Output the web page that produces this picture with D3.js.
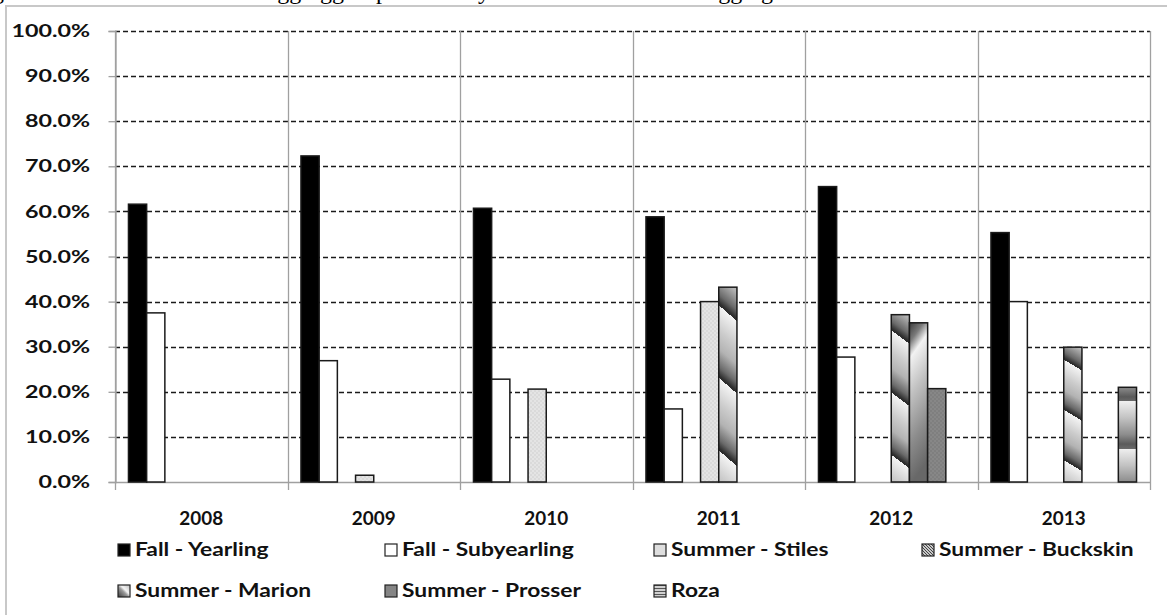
<!DOCTYPE html>
<html>
<head>
<meta charset="utf-8">
<script src="https://cdn.jsdelivr.net/npm/d3@7"></script>
<style>
  html, body { margin: 0; padding: 0; background: #fff; }
  svg { display: block; }
</style>
</head>
<body>
<svg id="chart" width="1167" height="615"></svg>
<script>
// ---------------- data ----------------
const years = ["2008", "2009", "2010", "2011", "2012", "2013"];
const seriesKeys = ["yearling", "subyearling", "blank", "stiles", "buckskin", "marion", "prosser", "roza"];
const seriesNames = ["Fall - Yearling", "Fall - Subyearling", "", "Summer - Stiles", "Summer - Buckskin", "Summer - Marion", "Summer - Prosser", "Roza"];
const fallYearling    = [61.6, 72.3, 60.7, 58.8, 65.5, 55.3];
const fallSubyearling = [37.5, 26.9, 22.8, 16.2, 27.7, 40.0];
const blankSeries     = [0, 0, 0, 0, 0, 0];
const summerStiles    = [0, 1.5, 20.6, 40.0, 0, 0];
const summerBuckskin  = [0, 0, 0, 43.2, 37.1, 29.9];
const summerMarion    = [0, 0, 0, 0, 35.3, 0];
const summerProsser   = [0, 0, 0, 0, 20.7, 0];
const roza            = [0, 0, 0, 0, 0, 21.0];
const yTicks = [0, 10, 20, 30, 40, 50, 60, 70, 80, 90, 100];
const legendOrder = ["yearling", "subyearling", "stiles", "buckskin", "marion", "prosser", "roza"];

const seriesValues = [fallYearling, fallSubyearling, blankSeries, summerStiles, summerBuckskin, summerMarion, summerProsser, roza];

// ---------------- layout ----------------
const svg = d3.select("#chart");
const W = 1167, H = 615;
const plot = { left: 115, right: 1150, top: 31, bottom: 482 };
const FONT = "Lato, 'Open Sans', sans-serif";

const defs = svg.append("defs");
function dotPattern(id, bg, dot) {
  const p = defs.append("pattern").attr("id", id).attr("patternUnits", "userSpaceOnUse")
    .attr("width", 4).attr("height", 4);
  p.append("rect").attr("width", 4).attr("height", 4).attr("fill", bg);
  p.append("circle").attr("cx", 1).attr("cy", 1).attr("r", 0.7).attr("fill", dot);
  p.append("circle").attr("cx", 3).attr("cy", 3).attr("r", 0.7).attr("fill", dot);
}
dotPattern("stilesPat", "#e4e4e4", "#c9c9c9");
dotPattern("prosserPat", "#878787", "#727272");

function grad(id, attrs, stops) {
  const g = defs.append("linearGradient").attr("id", id);
  Object.entries(attrs).forEach(([k, v]) => g.attr(k, v));
  stops.forEach(([o, c]) => g.append("stop").attr("offset", o).attr("stop-color", c));
}
grad("buckskinGrad",
  { gradientUnits: "objectBoundingBox", spreadMethod: "repeat", x1: 0, y1: -0.28, x2: -0.03, y2: 0.09 },
  [[0, "#f4f4f4"], [0.35, "#cbcbcb"], [0.6, "#b3b3b3"], [0.85, "#6a6a6a"], [0.97, "#2e2e2e"], [1, "#2e2e2e"]]);
grad("marionGrad",
  { gradientUnits: "objectBoundingBox", x1: 0, y1: 0, x2: 0.16, y2: 1 },
  [[0, "#3c3c3c"], [0.12, "#7a7a7a"], [0.22, "#f2f2f2"], [0.45, "#c2c2c2"], [0.75, "#8c8c8c"], [1, "#686868"]]);
grad("rozaGrad",
  { gradientUnits: "objectBoundingBox", spreadMethod: "repeat", x1: 0, y1: -0.35, x2: 0, y2: 0.15 },
  [[0, "#efefef"], [0.35, "#c2c2c2"], [0.7, "#8c8c8c"], [0.9, "#5a5a5a"], [1, "#6a6a6a"]]);
// legend icon fills
const hp = defs.append("pattern").attr("id", "buckskinIcon").attr("patternUnits", "userSpaceOnUse")
  .attr("width", 3).attr("height", 3);
hp.append("rect").attr("width", 3).attr("height", 3).attr("fill", "#c8c8c8");
hp.append("path").attr("d", "M-1,-1 L4,4").attr("stroke", "#444").attr("stroke-width", 1);
grad("marionIcon",
  { gradientUnits: "objectBoundingBox", x1: 0, y1: 1, x2: 1, y2: 0 },
  [[0, "#3a3a3a"], [0.45, "#9a9a9a"], [0.6, "#f4f4f4"], [1, "#bdbdbd"]]);
const rp = defs.append("pattern").attr("id", "rozaIcon").attr("patternUnits", "userSpaceOnUse")
  .attr("width", 3).attr("height", 3);
rp.append("rect").attr("width", 3).attr("height", 3).attr("fill", "#d0d0d0");
rp.append("rect").attr("width", 3).attr("height", 1).attr("fill", "#555");

const fills = {
  yearling: "#000000",
  subyearling: "#ffffff",
  blank: "none",
  stiles: "url(#stilesPat)",
  buckskin: "url(#buckskinGrad)",
  marion: "url(#marionGrad)",
  prosser: "url(#prosserPat)",
  roza: "url(#rozaGrad)"
};
const iconFills = Object.assign({}, fills, {
  stiles: "#dedede", buckskin: "url(#buckskinIcon)", marion: "url(#marionIcon)",
  prosser: "#858585", roza: "url(#rozaIcon)"
});

// outer chart border
svg.append("rect").attr("x", 6).attr("y", 6).attr("width", W + 10).attr("height", H + 10)
  .attr("fill", "none").attr("stroke", "#c8c8c8").attr("stroke-width", 2);

// clipped title (only descenders visible)
const title = svg.append("text").attr("y", -1)
  .attr("font-family", "'Liberation Serif', 'Times New Roman', serif")
  .attr("font-size", 24).attr("fill", "#000");
title.append("tspan").attr("x", -28).text("Figure 9. Percent of");
title.append("tspan").attr("x", 260).text("tagging");
title.append("tspan").attr("x", 332).text("groups");
title.append("tspan").attr("x", 466).text("by release site and");
title.append("tspan").attr("x", 701).text("tagging");

// scales
const x = d3.scaleBand().domain(years).range([plot.left, plot.right]).padding(0);
const xi = d3.scaleBand().domain(seriesKeys).range([0, x.bandwidth()]).paddingInner(0).paddingOuter(0.74);
const y = d3.scaleLinear().domain([0, 100]).range([plot.bottom, plot.top]);

// dashed horizontal gridlines
svg.append("g").selectAll("line").data(yTicks.filter(t => t > 0)).join("line")
  .attr("x1", plot.left).attr("x2", plot.right)
  .attr("y1", d => Math.round(y(d)) + 0.5).attr("y2", d => Math.round(y(d)) + 0.5)
  .attr("stroke", "#1a1a1a").attr("stroke-width", 1.4).attr("stroke-dasharray", "5,3");

// category separators (vertical gray lines)
const bounds = years.map(d => x(d)).concat([plot.right]);
svg.append("g").selectAll("line").data(bounds).join("line")
  .attr("x1", d => Math.round(d) + 0.5).attr("x2", d => Math.round(d) + 0.5)
  .attr("y1", plot.top).attr("y2", plot.bottom + 8)
  .attr("stroke", "#a0a0a0").attr("stroke-width", 1.3);

// y axis ticks (left)
const yAxis = d3.axisLeft(y).tickValues(yTicks).tickSize(7).tickFormat("");
const yg = svg.append("g").attr("transform", `translate(${plot.left + 0.5},0)`).call(yAxis);
yg.select(".domain").attr("stroke", "#a0a0a0").attr("stroke-width", 1.3);
yg.selectAll(".tick line").attr("stroke", "#a0a0a0").attr("stroke-width", 1.3);

// x axis baseline
svg.append("line").attr("x1", plot.left).attr("x2", plot.right)
  .attr("y1", y(0) + 0.5).attr("y2", y(0) + 0.5)
  .attr("stroke", "#a0a0a0").attr("stroke-width", 1.6);

// y tick labels
svg.append("g").selectAll("text").data(yTicks).join("text")
  .attr("transform", d => `translate(90,${y(d)}) scale(1.37,1)`)
  .attr("text-anchor", "end").attr("dy", "0.36em")
  .attr("font-family", FONT).attr("font-weight", 700).attr("font-size", 17).attr("fill", "#111")
  .text(d => d.toFixed(1) + "%");

// x labels
svg.append("g").selectAll("text").data(years).join("text")
  .attr("transform", d => `translate(${x(d) + x.bandwidth() / 2},525) scale(1.05,1)`)
  .attr("text-anchor", "middle")
  .attr("font-family", FONT).attr("font-weight", 700).attr("font-size", 18).attr("fill", "#111")
  .text(d => d);

// bars
const barData = [];
seriesKeys.forEach((k, si) => {
  if (k === "blank") return;
  seriesValues[si].forEach((v, yi) => { if (v > 0) barData.push({ key: k, year: years[yi], value: v }); });
});
svg.append("g").selectAll("rect").data(barData).join("rect")
  .attr("x", d => x(d.year) + xi(d.key))
  .attr("width", xi.bandwidth())
  .attr("y", d => y(d.value))
  .attr("height", d => y(0) - y(d.value))
  .attr("fill", d => fills[d.key])
  .attr("stroke", "#1a1a1a").attr("stroke-width", 1.5);

// legend
const legend = svg.append("g");
const legCols = [117, 384, 653, 921];
legendOrder.forEach((k, i) => {
  const col = i % 4, row = Math.floor(i / 4);
  const lx = legCols[col], ly = 556 + row * 41;
  legend.append("rect").attr("x", lx + 1).attr("y", ly - 12).attr("width", 12).attr("height", 12)
    .attr("fill", iconFills[k]).attr("stroke", "#222").attr("stroke-width", 1.2);
  legend.append("text")
    .attr("transform", `translate(${lx + 18},${ly}) scale(1.2,1)`)
    .attr("font-family", FONT).attr("font-weight", 700).attr("font-size", 19).attr("fill", "#111")
    .text(seriesNames[seriesKeys.indexOf(k)]);
});
</script>
</body>
</html>
